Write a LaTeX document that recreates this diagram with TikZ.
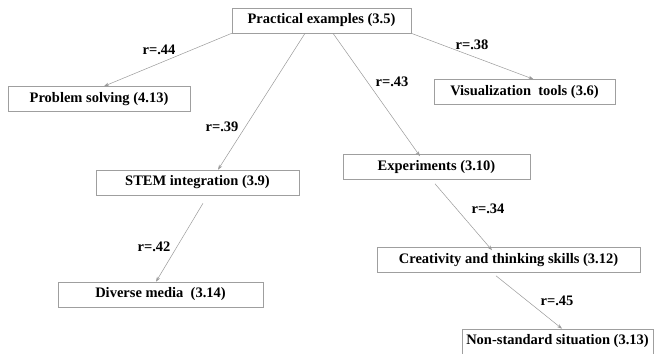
\documentclass[tikz,border=0pt]{standalone}
\usepackage{fontspec}
\setmainfont{Liberation Serif}
\usetikzlibrary{arrows.meta}

\begin{document}
\begin{tikzpicture}[x=1pt, y=-1pt,
    box/.style={draw=gray!75, line width=0.6pt, inner sep=0pt, minimum height=25pt,
      font=\fontsize{14.5}{16}\selectfont\bfseries},
    link/.style={draw=gray!80, line width=0.5pt, -{Stealth[length=5pt, width=3.5pt]}},
    rlab/.style={font=\fontsize{14.5}{16}\selectfont\bfseries, inner sep=0pt}]
  \useasboundingbox (0,0) rectangle (655,353);
  % boxes
  \node[box, minimum width=179pt] (prac) at (321.5,20.5) {Practical examples (3.5)};
  \node[box, minimum width=182pt] (prob) at (99,99) {Problem solving (4.13)};
  \node[box, minimum width=181pt] (visu) at (524.5,92) {Visualization\ \ tools (3.6)};
  \node[box, minimum width=203pt] (stem) at (197.5,182.5) {STEM integration (3.9)};
  \node[box, minimum width=187pt] (expe) at (436.5,167) {Experiments (3.10)};
  \node[box, minimum width=263pt] (crea) at (508.5,260) {Creativity and thinking skills (3.12)};
  \node[box, minimum width=205pt] (dive) at (160.5,294.5) {Diverse media\ \ (3.14)};
  \node[box, minimum width=191pt] (nons) at (557.5,341.5) {Non-standard situation (3.13)};
  % links
  \draw[link] (prac.south west) -- ([xshift=5pt]prob.north);
  \draw[link] ([xshift=-16.5pt]prac.south) -- ([xshift=20.5pt]stem.north);
  \draw[link] ([xshift=11.5pt]prac.south) -- ([xshift=-16.5pt, yshift=-2pt]expe.north);
  \draw[link] (prac.south east) -- ([xshift=9pt]visu.north);
  \draw[link] ([xshift=5.5pt, yshift=-8pt]stem.south) -- ([xshift=-4.5pt]dive.north);
  \draw[link] ([xshift=-1.5pt, yshift=-4pt]expe.south) -- ([xshift=-16.5pt, yshift=-3pt]crea.north);
  \draw[link] ([xshift=-12.5pt, yshift=-3pt]crea.south) -- ([xshift=4.5pt]nons.north);
  % coefficients
  \node[rlab] (r44) at (159,50) {r=.44};
  \node[rlab] (r39) at (222,127) {r=.39};
  \node[rlab] (r43) at (392,82) {r=.43};
  \node[rlab] (r38) at (472,45) {r=.38};
  \node[rlab] (r42) at (154,247) {r=.42};
  \node[rlab] (r34) at (488,209) {r=.34};
  \node[rlab] (r45) at (557,301) {r=.45};
\end{tikzpicture}
\end{document}
